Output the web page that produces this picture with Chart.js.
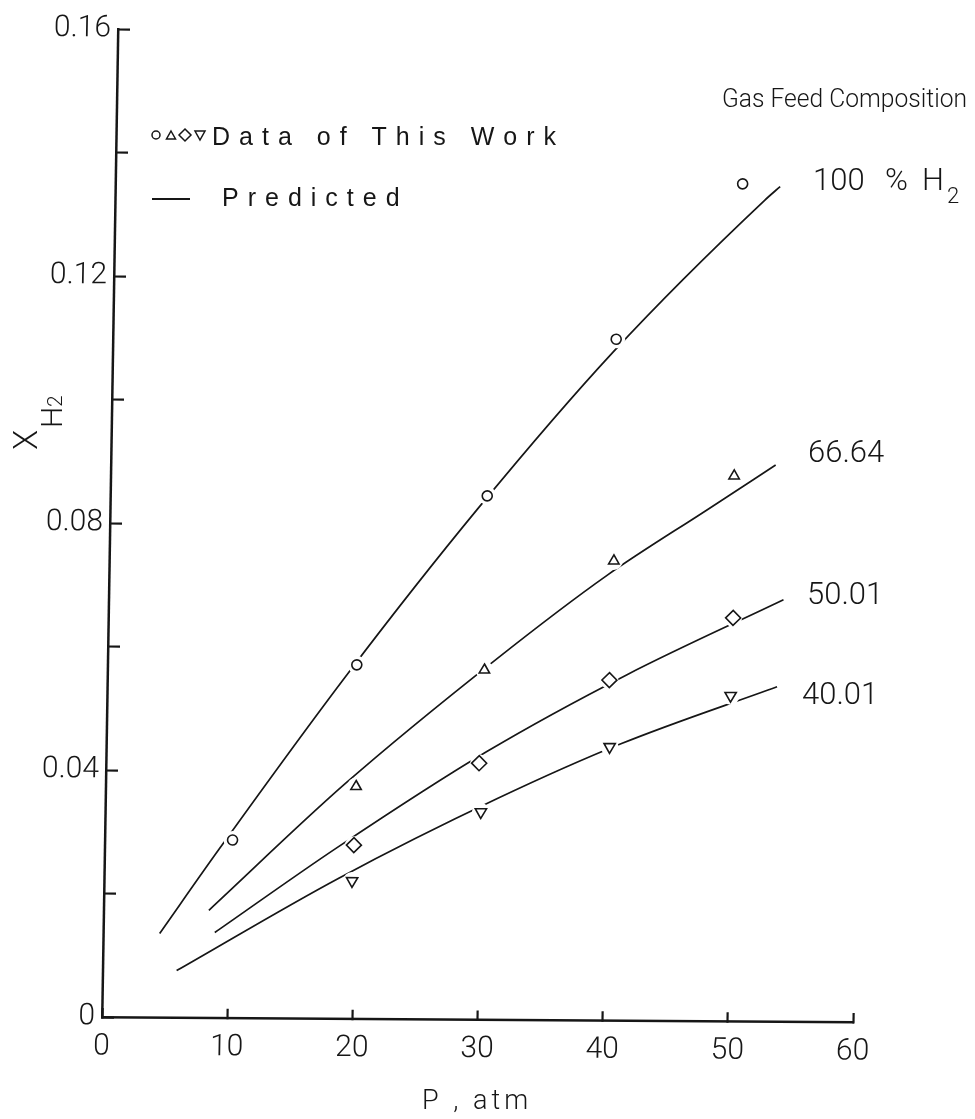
<!DOCTYPE html>
<html><head><meta charset="utf-8">
<script src="https://cdn.jsdelivr.net/npm/chart.js@4.4.1/dist/chart.umd.min.js"></script>
<style>html,body{margin:0;padding:0;background:#fff;}canvas{display:block;}</style>
</head><body>
<canvas id="c" width="975" height="1119"></canvas>
<script>
// ---- tick values / labels ----
const xTickValues = [0, 10, 20, 30, 40, 50, 60];
const yTickValues = [0, 0.02, 0.04, 0.06, 0.08, 0.10, 0.12, 0.14, 0.16];
const yTickLabels = ['0', '', '0.04', '', '0.08', '', '0.12', '', '0.16'];

// ---- series names ----
const seriesLabels = ['100 %H2', '66.64', '50.01', '40.01'];

// ---- measured data (Data of This Work) ----
const obs100P  = [10.2, 19.9, 30.1, 40.2, 50.1];
const obs100X  = [0.0288, 0.0573, 0.0848, 0.1103, 0.1356];
const obs6664P = [20.0, 30.1, 40.3, 49.8];
const obs6664X = [0.0376, 0.0566, 0.0744, 0.0883];
const obs5001P = [19.9, 29.8, 40.1, 49.9];
const obs5001X = [0.0281, 0.0415, 0.0551, 0.0653];
const obs4001P = [19.8, 30.0, 40.2, 49.8];
const obs4001X = [0.0223, 0.0336, 0.0443, 0.0527];

// ---- predicted curves ----
const pred100P  = [4.5, 9.1, 19.2, 29.4, 40.0, 51.9, 53.1];
const pred100X  = [0.0136, 0.0272, 0.0559, 0.0828, 0.1083, 0.1330, 0.1352];
const pred6664P = [8.4, 19.1, 31.0, 39.8, 47.7, 53.1];
const pred6664X = [0.0174, 0.0380, 0.0583, 0.0721, 0.0828, 0.0901];
const pred5001P = [8.9, 18.5, 30.4, 41.5, 53.9];
const pred5001X = [0.0138, 0.0276, 0.0434, 0.0560, 0.0683];
const pred4001P = [5.9, 18.7, 31.3, 41.1, 53.5];
const pred4001X = [0.0076, 0.0227, 0.0358, 0.0448, 0.0542];

const INK = '#161616';
const toPts = (xs, ys) => xs.map((x, i) => ({x: x, y: ys[i]}));

const series = [
  {obsP: obs100P,  obsX: obs100X,  predP: pred100P,  predX: pred100X,  style: 'circle',   rot: 0,   r: 5},
  {obsP: obs6664P, obsX: obs6664X, predP: pred6664P, predX: pred6664X, style: 'triangle', rot: 0,   r: 6},
  {obsP: obs5001P, obsX: obs5001X, predP: pred5001P, predX: pred5001X, style: 'rectRot',  rot: 0,   r: 7.5},
  {obsP: obs4001P, obsX: obs4001X, predP: pred4001P, predX: pred4001X, style: 'triangle', rot: 180, r: 6.5}
];

const datasets = [];
series.forEach((s, k) => {
  datasets.push({
    label: seriesLabels[k] + ' predicted', type: 'line',
    data: toPts(s.predP, s.predX), showLine: true,
    borderColor: INK, borderWidth: 1.7, pointRadius: 0, fill: false,
    cubicInterpolationMode: 'monotone', order: 3
  });
  datasets.push({
    label: seriesLabels[k] + ' gap', type: 'scatter',
    data: toPts(s.obsP, s.obsX), pointStyle: 'circle', pointRadius: 9,
    pointBackgroundColor: '#fff', pointBorderWidth: 0, pointBorderColor: '#fff', order: 2
  });
  datasets.push({
    label: seriesLabels[k] + ' data', type: 'scatter',
    data: toPts(s.obsP, s.obsX), pointStyle: s.style, pointRotation: s.rot, pointRadius: s.r,
    pointBackgroundColor: '#fff', pointBorderColor: INK, pointBorderWidth: 1.6, order: 1
  });
});

// skew of the scanned figure (applied through the canvas transform)
const ORIGIN = {x: 102, y: 1017};
const SKEW_X = -0.0162, SKEW_Y = 0.00666;
const THIN = '"Roboto", "Liberation Sans", sans-serif';
const PLAIN = '"Liberation Sans", Arial, sans-serif';

function spacedText(ctx, text, x, y, spacing) {
  let cx = x;
  for (const ch of text) {
    ctx.fillText(ch, cx, y);
    cx += ctx.measureText(ch).width + spacing;
  }
}

const skewPlugin = {
  id: 'skewAndNotes',
  beforeDraw(chart) {
    const ctx = chart.ctx;
    ctx.save();
    ctx.translate(ORIGIN.x, ORIGIN.y);
    ctx.transform(1, SKEW_Y, SKEW_X, 1, 0, 0);
    ctx.translate(-ORIGIN.x, -ORIGIN.y);
  },
  afterDraw(chart) {
    const ctx = chart.ctx;
    ctx.restore();

    // ---- annotations (page coordinates) ----
    ctx.save();
    ctx.setTransform(1, 0, 0, 1, 0, 0);
    ctx.fillStyle = INK;
    ctx.textBaseline = 'alphabetic';
    ctx.textAlign = 'left';

    ctx.font = '300 26px ' + THIN;
    ctx.fillText('Gas Feed Composition', 722, 107, 245);

    ctx.font = '300 31px ' + THIN;
    ctx.fillText('100', 813, 190);
    ctx.fillText('%', 885, 190);
    ctx.fillText('H', 922, 190);
    ctx.font = '300 22px ' + THIN;
    ctx.fillText('2', 947, 203);
    ctx.font = '300 31px ' + THIN;
    ctx.fillText('66.64', 808, 462);
    ctx.fillText('50.01', 807, 604);
    ctx.fillText('40.01', 802, 704);

    // legend
    ctx.strokeStyle = INK; ctx.lineWidth = 1.5;
    ctx.beginPath(); ctx.arc(156, 135, 4, 0, Math.PI * 2); ctx.stroke();
    ctx.beginPath(); ctx.moveTo(171, 131); ctx.lineTo(175.5, 139); ctx.lineTo(166.5, 139); ctx.closePath(); ctx.stroke();
    ctx.beginPath(); ctx.moveTo(185, 129); ctx.lineTo(191, 135); ctx.lineTo(185, 141); ctx.lineTo(179, 135); ctx.closePath(); ctx.stroke();
    ctx.beginPath(); ctx.moveTo(195, 131); ctx.lineTo(205, 131); ctx.lineTo(200, 140); ctx.closePath(); ctx.stroke();
    ctx.lineWidth = 2;
    ctx.beginPath(); ctx.moveTo(152, 199); ctx.lineTo(190, 199); ctx.stroke();
    ctx.font = '25px ' + PLAIN;
    spacedText(ctx, 'Data of This Work', 212, 145, 9);
    spacedText(ctx, 'Predicted', 222, 206, 9);

    // x axis title
    ctx.font = '300 27px ' + THIN;
    spacedText(ctx, 'P , atm', 422, 1109, 4);

    // y axis title  X_H2 (rotated)
    ctx.save();
    ctx.translate(37, 450);
    ctx.rotate(-Math.PI / 2);
    ctx.font = '300 33px ' + THIN;
    ctx.fillText('X', 0, 0);
    ctx.font = '300 30px ' + THIN;
    ctx.fillText('H', 22, 25);
    ctx.font = '300 21px ' + THIN;
    ctx.fillText('2', 43, 25);
    ctx.restore();
    ctx.restore();
  }
};

const noEdgePadding = s => { s.paddingTop = 0; s.paddingBottom = 0; s.paddingLeft = 0; s.paddingRight = 0; };

new Chart(document.getElementById('c'), {
  type: 'scatter',
  data: {datasets: datasets},
  options: {
    responsive: false,
    animation: false,
    events: [],
    layout: {padding: {left: 0, top: 29, right: 122, bottom: 0}},
    plugins: {legend: {display: false}, tooltip: {enabled: false}, title: {display: false}},
    scales: {
      x: {
        type: 'linear', min: 0, max: 60,
        afterBuildTicks: s => { s.ticks = xTickValues.map(v => ({value: v})); },
        afterFit: s => { s.height = 102; noEdgePadding(s); },
        grid: {display: true, drawOnChartArea: false, drawTicks: true, tickLength: -9,
               tickWidth: 2.2, tickColor: INK, color: INK},
        border: {display: true, color: INK, width: 2.5},
        ticks: {color: INK, padding: 21, maxRotation: 0, font: {family: THIN, size: 30, weight: '300'},
                callback: v => String(v)}
      },
      y: {
        type: 'linear', min: 0, max: 0.16,
        afterBuildTicks: s => { s.ticks = yTickValues.map(v => ({value: v})); },
        afterFit: s => { s.width = 102; noEdgePadding(s); },
        grid: {display: true, drawOnChartArea: false, drawTicks: true, tickLength: -12,
               tickWidth: 2.2, tickColor: INK, color: INK},
        border: {display: true, color: INK, width: 2.5},
        ticks: {color: INK, padding: 19, font: {family: THIN, size: 30, weight: '300'},
                callback: (v, i) => yTickLabels[i]}
      }
    }
  },
  plugins: [skewPlugin]
});
</script>
</body></html>
